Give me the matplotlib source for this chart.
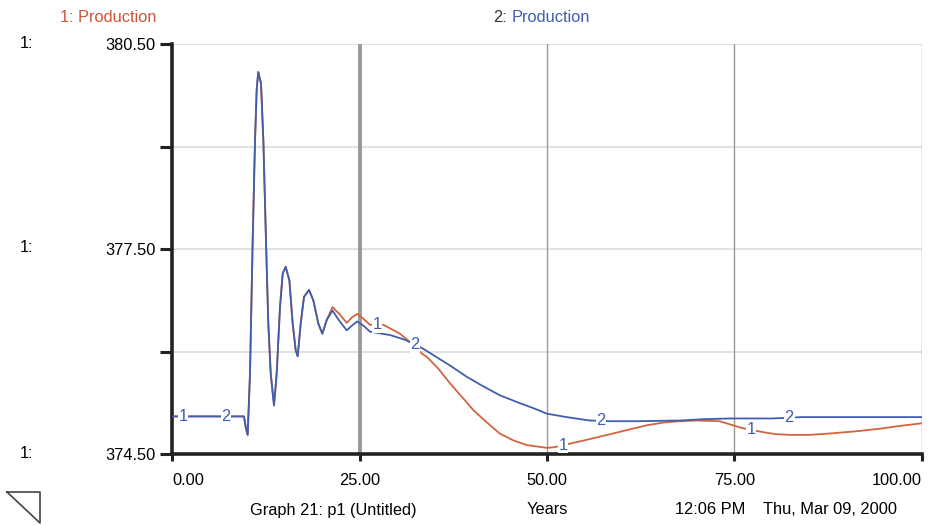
import matplotlib
matplotlib.use("Agg")
import matplotlib.pyplot as plt
from matplotlib.lines import Line2D
import numpy as np

plt.rcParams["font.family"] = ["Liberation Sans", "DejaVu Sans"]

# Shared part of both runs (identical until ~21 years)
years_common = [0, 9.6, 9.85, 10.09, 10.4, 10.76, 11.07, 11.29, 11.5, 11.87, 12.18, 12.53, 12.84,
                13.16, 13.6, 13.96, 14.4, 14.76, 15.16, 15.65, 16.09, 16.49, 16.76, 17.16, 17.6,
                18.27, 18.84, 19.51, 20.04, 20.63]
prod_common = [375.05, 375.05, 374.88, 374.78, 375.68, 377.63, 379.09, 379.83, 380.09, 379.92,
               379.09, 377.63, 376.41, 375.68, 375.21, 375.68, 376.65, 377.14, 377.24, 377.04,
               376.41, 376.02, 375.93, 376.41, 376.8, 376.9, 376.75, 376.41, 376.26, 376.46]

years_1 = [21.4, 22.3, 23.3, 24.0, 24.7, 25.5, 26.4, 28.2, 30.4, 31.7, 33.3, 34.0, 35.5, 37.1,
           38.7, 40.2, 42.0, 43.7, 45.5, 47.3, 50.0, 51.0, 53.0, 55.0, 58.8, 61.0, 63.3, 65.5,
           67.7, 70.0, 73.0, 74.8, 76.0, 78.8, 80.5, 82.4, 85.0, 87.7, 91.0, 94.4, 97.0, 100.0]
prod_1 = [376.65, 376.55, 376.42, 376.5, 376.55, 376.48, 376.39, 376.39, 376.26, 376.14, 375.97,
          375.92, 375.75, 375.53, 375.33, 375.14, 374.96, 374.80, 374.70, 374.63, 374.59, 374.60,
          374.65, 374.70, 374.80, 374.86, 374.92, 374.96, 374.98, 374.99, 374.98, 374.92, 374.88,
          374.82, 374.79, 374.78, 374.78, 374.80, 374.83, 374.87, 374.91, 374.95]

years_2 = [21.4, 22.3, 23.3, 24.0, 24.7, 25.5, 26.4, 29.1, 31.1, 33.5, 34.8, 37.0, 39.3, 41.5,
           43.7, 46.0, 48.2, 50.0, 52.6, 55.7, 58.5, 62.0, 67.7, 71.0, 74.4, 77.0, 80.0, 84.0,
           90.0, 100.0]
prod_2 = [376.60, 376.45, 376.31, 376.38, 376.44, 376.38, 376.29, 376.24, 376.17, 376.04, 375.95,
          375.80, 375.63, 375.49, 375.36, 375.26, 375.17, 375.09, 375.04, 374.99, 374.98, 374.98,
          374.99, 375.01, 375.02, 375.02, 375.02, 375.04, 375.04, 375.04]

# where the "1" / "2" curve markers sit
label_x_1 = [1.5, 27.3, 52.1, 77.2]
label_x_2 = [7.2, 32.4, 57.2, 82.3]

x_ticks = [0, 25, 50, 75, 100]
x_ticklabels = ["0.00", "25.00", "50.00", "75.00", "100.00"]
y_ticks = [374.5, 376.0, 377.5, 379.0, 380.5]
y_ticklabels = ["374.50", "", "377.50", "", "380.50"]

red = "#d2643f"
blue = "#3f5fae"
fs = 11.8

x1 = years_common + years_1
y1 = prod_common + prod_1
x2 = years_common + years_2
y2 = prod_common + prod_2

fig = plt.figure(figsize=(9.34, 5.26), dpi=100)
ax = fig.add_axes([172 / 934, 72 / 526, 750 / 934, 410 / 526])
ax.set_xlim(0, 100)
ax.set_ylim(374.5, 380.5)

# grid
for yv in y_ticks[1:]:
    ax.axhline(yv, color="#dcdcdc", lw=1.2, zorder=0)
ax.axvline(25, color="#999999", lw=2.8, zorder=0)
for xv in [50, 75, 100]:
    ax.axvline(xv, color="#9a9a9a", lw=1.0, zorder=0)

ax.plot(x1, y1, color=red, lw=1.3, zorder=2)
ax.plot(x2, y2, color=blue, lw=1.3, zorder=3)

for lx in label_x_1:
    ax.text(lx, np.interp(lx, x1, y1), "1", color=blue, fontsize=fs, ha="center", va="center",
            zorder=4, bbox=dict(facecolor="white", edgecolor="none", pad=0.5))
for lx in label_x_2:
    ax.text(lx, np.interp(lx, x2, y2), "2", color=blue, fontsize=fs, ha="center", va="center",
            zorder=4, bbox=dict(facecolor="white", edgecolor="none", pad=0.5))

for s in ["top", "right"]:
    ax.spines[s].set_visible(False)
for s in ["left", "bottom"]:
    ax.spines[s].set_linewidth(2.6)
    ax.spines[s].set_color("#222222")

ax.set_yticks(y_ticks)
ax.set_yticklabels(y_ticklabels)
ax.set_xticks(x_ticks)
ax.set_xticklabels(x_ticklabels)
ax.tick_params(axis="y", direction="out", length=9, width=2.2, labelsize=fs, pad=3,
               color="#222222")
ax.tick_params(axis="x", direction="out", length=5, width=2.2, labelsize=fs, pad=9,
               color="#222222")
xl = ax.get_xticklabels()
xl[0].set_ha("left")
xl[-1].set_ha("right")

# "1:" scale markers at left
for py in [44, 248, 454]:
    fig.text(20 / 934, 1 - py / 526, "1:", fontsize=fs, ha="left", va="center")

ty0 = 1 - 17 / 526
fig.text(60 / 934, ty0, "1: Production", color="#c9583a", fontsize=fs, ha="left", va="center")
fig.text(493 / 934, ty0, "2:", color="#333333", fontsize=fs, ha="left", va="center")
fig.text(512 / 934, ty0, "Production", color=blue, fontsize=fs, ha="left", va="center")

fy = 1 - 510 / 526
fig.text(250 / 934, fy, "Graph 21: p1 (Untitled)", fontsize=fs, ha="left", va="center")
fig.text(527 / 934, fy, "Years", fontsize=fs, ha="left", va="center")
fig.text(675 / 934, fy, "12:06 PM", fontsize=fs, ha="left", va="center")
fig.text(763 / 934, fy, "Thu, Mar 09, 2000", fontsize=fs, ha="left", va="center")

# little triangle icon bottom-left
tx = [7 / 934, 40 / 934, 40 / 934, 7 / 934]
ty = [1 - 492 / 526, 1 - 492 / 526, 1 - 523 / 526, 1 - 492 / 526]
fig.add_artist(Line2D(tx, ty, color="#444444", lw=1.2, transform=fig.transFigure))

fig.savefig("out.png", dpi=100)
